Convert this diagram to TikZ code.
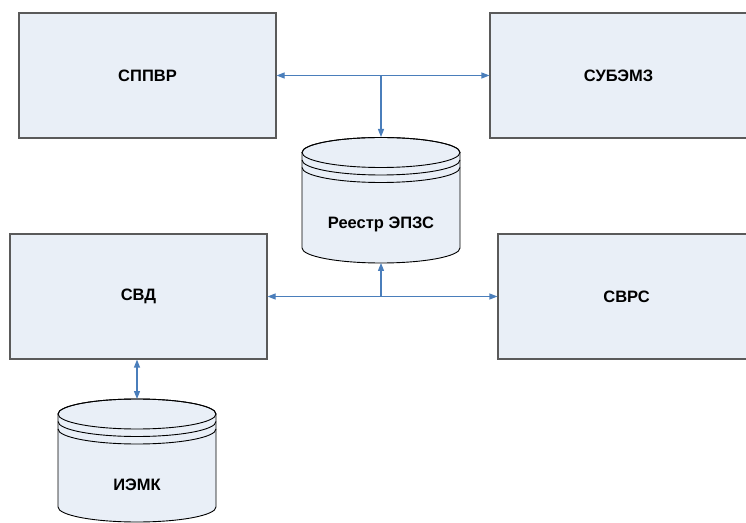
\documentclass[tikz,border=0pt]{standalone}
\usepackage{fontspec}
\setmainfont{Liberation Sans}
\usepackage{tikz}
\usetikzlibrary{arrows.meta, positioning}
\definecolor{boxfill}{HTML}{E9EFF7}
\definecolor{boxline}{HTML}{5A5A5A}
\definecolor{linkblue}{HTML}{4A7EBB}
\tikzset{
	sysbox/.style={draw=boxline, line width=1.1pt, fill=boxfill, minimum width=257, minimum height=125, inner sep=0pt, font=\bfseries\fontsize{16.5}{19}\selectfont},
	drumline/.style={draw=black, line width=0.9pt, fill=boxfill},
	drumtext/.style={font=\bfseries\fontsize{16.5}{19}\selectfont},
	link/.style={draw=linkblue, line width=1.1pt, {Triangle[length=8pt,width=6pt]}-{Triangle[length=8pt,width=6pt]}},
	linkto/.style={draw=linkblue, line width=1.1pt, -{Triangle[length=8pt,width=6pt]}}
}
% database drum: #1 = x of centre, #2 = y of top rim, #3 = y of bottom rim
\newcommand{\drum}[3]{%
	\begin{scope}[shift={(#1,0)}]
		\filldraw[drumline] (-79,#2) -- (-79,#3) arc (180:360:79 and 15) -- (79,#2) arc (0:180:79 and 15) -- cycle;
		\draw[drumline, fill=none] (0,#2) ellipse (79 and 15);
		\draw[drumline, fill=none] (-79,#2-7.5) arc (180:360:79 and 15);
		\draw[drumline, fill=none] (-79,#2-15) arc (180:360:79 and 15);
	\end{scope}%
}

\begin{document}
\begin{tikzpicture}[x=1pt, y=1pt]
	\clip (0,0) rectangle (746,522);

	% Systems
	\node[sysbox] (sppvr) at (147.5,446.5) {СППВР};
	\node[sysbox] (subemz) at (618.5,446.5) {СУБЭМЗ};
	\node[sysbox] (svd) at (138.5,225.5) {СВД};
	\node[sysbox] (svrs) at (626.5,225.5) {СВРС};

	% Registry and records store
	\drum{381}{369.5}{274}
	\node[drumtext] (reg) at (381,298) {Реестр ЭПЗС};
	\coordinate (regtop) at (381,385);
	\coordinate (regbot) at (381,259);

	\drum{137}{108}{15}
	\node[drumtext] (iemk) at (137,37) {ИЭМК};
	\coordinate (iemktop) at (137,123);

	% Links
	\draw[link] (sppvr.east) -- (subemz.west);
	\draw[linkto] (regtop |- sppvr.east) -- (regtop);
	\draw[link] (svd.east) -- (svrs.west);
	\draw[linkto] (regbot |- svd.east) -- (regbot);
	\draw[link] (iemktop |- svd.south) -- (iemktop);
\end{tikzpicture}
\end{document}
